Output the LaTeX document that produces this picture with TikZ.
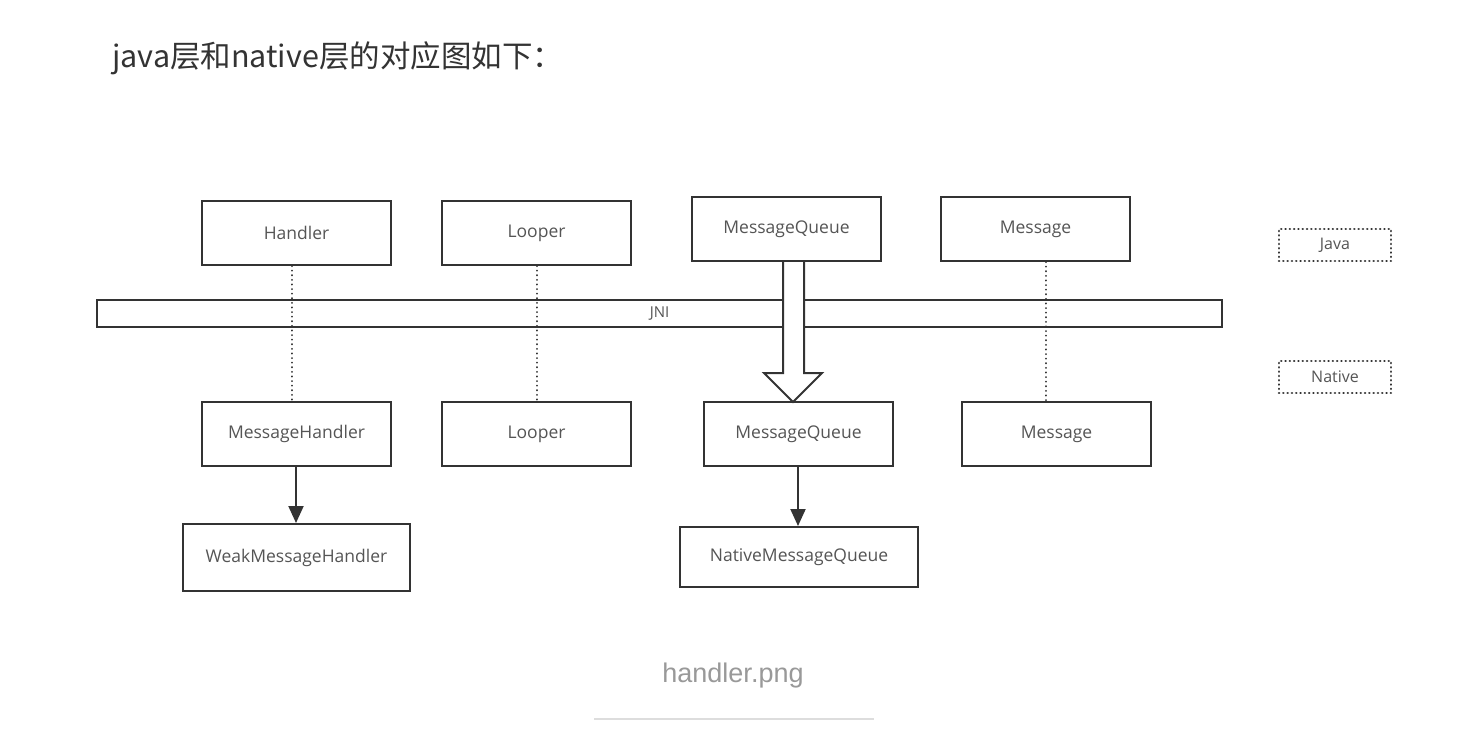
\documentclass[tikz,border=0pt]{standalone}
\usepackage{fontspec}
\setmainfont{Open Sans}
\newfontfamily\cjkfont{Noto Sans CJK SC}
\newfontfamily\capfont{Liberation Sans}
\usetikzlibrary{arrows.meta}
\definecolor{boxline}{HTML}{333333}
\definecolor{boxtext}{HTML}{555555}
\definecolor{titletext}{HTML}{333333}
\definecolor{captext}{HTML}{999999}
\definecolor{rule}{HTML}{DDDDDD}
\begin{document}
\begin{tikzpicture}[x=1pt,y=-1pt,
  cls/.style={draw=boxline,line width=2pt,fill=white,minimum width=189pt,minimum height=64pt,inner sep=0pt,font=\fontsize{17.5}{20}\selectfont,text=boxtext},
  layer/.style={draw=boxline,line width=2.6pt,dash pattern=on 0.1pt off 4.2pt,line cap=round,minimum width=112pt,minimum height=32pt,inner sep=0pt,font=\fontsize{16}{18}\selectfont,text=boxtext},
  link/.style={boxline,line width=2pt,dash pattern=on 0.1pt off 4.5pt,line cap=round},
  solidarrow/.style={boxline,line width=2pt,-{Triangle[length=17pt,width=15pt]}}]
\useasboundingbox (0,0) rectangle (1464,750);
\fill[white] (0,0) rectangle (1464,750);
% title
\node[anchor=west,inner sep=0pt,text=titletext,font=\cjkfont\fontsize{30.5}{34}\selectfont] (title) at (112,58) {java层和native层的对应图如下：};
% JNI bar
\node[draw=boxline,line width=2pt,fill=white,minimum width=1125pt,minimum height=27pt,inner sep=0pt,font=\fontsize{15}{17}\selectfont,text=boxtext] (jni) at (659.5,313.5) {JNI};
% java classes
\node[cls] (handler) at (296.5,233) {\raisebox{-1.5pt}{Handler}};
\node[cls] (looperj) at (536.5,233) {\raisebox{-1.5pt}{Looper}};
\node[cls] (mqj) at (786.5,229) {\raisebox{-1.5pt}{MessageQueue}};
\node[cls] (msgj) at (1035.5,229) {\raisebox{-1.5pt}{Message}};
% native classes
\node[cls] (mh) at (296.5,434) {\raisebox{-1.5pt}{MessageHandler}};
\node[cls] (loopern) at (536.5,434) {\raisebox{-1.5pt}{Looper}};
\node[cls] (mqn) at (798.5,434) {\raisebox{-1.5pt}{MessageQueue}};
\node[cls] (msgn) at (1056.5,434) {\raisebox{-1.5pt}{Message}};
\node[cls,minimum width=227pt,minimum height=67pt] (wmh) at (296.5,557.5) {\raisebox{-1pt}{WeakMessageHandler}};
\node[cls,minimum width=238pt,minimum height=60pt] (nmq) at (799,557) {\raisebox{-1pt}{NativeMessageQueue}};
% layer labels
\node[layer] (java) at (1335,245) {Java};
\node[layer] (native) at (1335,377) {Native};
% dotted correspondences
\draw[link] (292,266) -- (292,401);
\draw[link] (537,266) -- (537,401);
\draw[link] (1046,262) -- (1046,401);
% hollow arrow
\coordinate (tip) at (793,402);
\draw[boxline,line width=2pt,fill=white,line join=miter] (783,262) -- (783,373) -- (764,373) -- (tip) -- (822,373) -- (804,373) -- (804,262);
% solid arrows
\draw[solidarrow] (mh.south -| 296,0) -- (wmh.north -| 296,0);
\draw[solidarrow] (mqn.south -| 798,0) -- (nmq.north -| 798,0);
% caption
\node[text=captext,font=\capfont\fontsize{27}{31}\selectfont,inner sep=0pt] (cap) at (733,676) {handler.png};
\draw[rule,line width=2pt] (594,719) -- (874,719);
\end{tikzpicture}
\end{document}
